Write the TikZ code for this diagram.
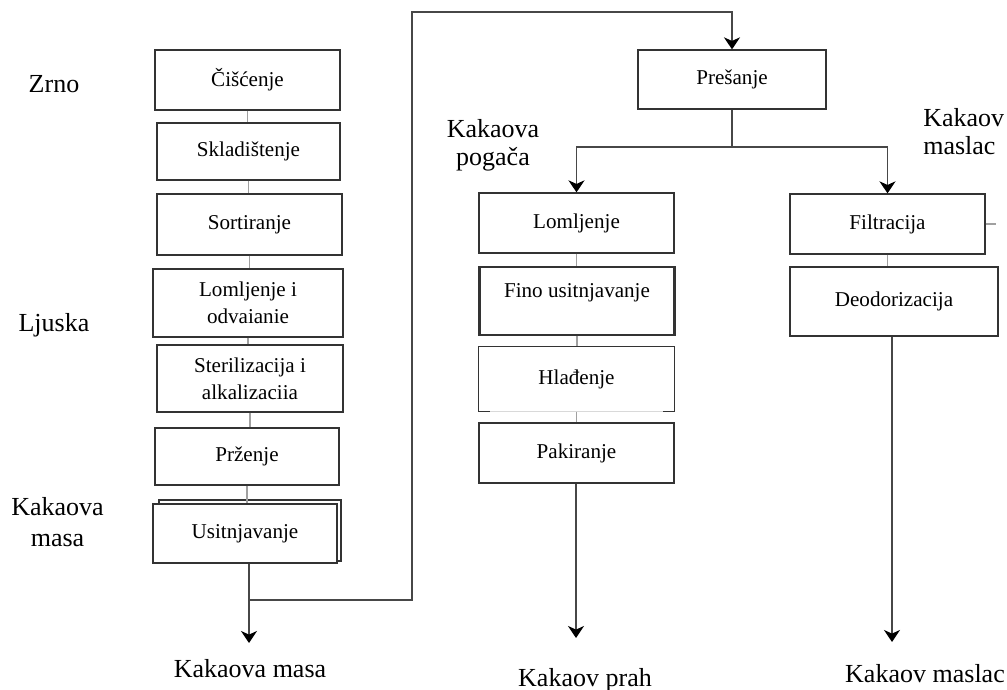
\documentclass[tikz,border=0pt]{standalone}
\usepackage{fontspec}
\setmainfont{Liberation Serif}
\usetikzlibrary{arrows.meta}
\definecolor{boxline}{HTML}{333333}
\definecolor{flowline}{HTML}{474747}
\definecolor{stepline}{HTML}{A0A0A0}
\tikzset{
  procbox/.style={draw=boxline, line width=0.9pt, fill=white, align=center, inner sep=0pt,
    font=\fontsize{15}{19}\selectfont},
  lbl/.style={inner sep=0pt, align=center, font=\fontsize{18.5}{22}\selectfont},
  mainline/.style={draw=flowline, line width=1.3pt},
  flow/.style={mainline, -{Stealth[length=0.3cm,width=0.4cm,inset=0.09cm,color=black]}},
  link/.style={draw=stepline, line width=1pt}
}
\begin{document}
\begin{tikzpicture}[x=0.025cm, y=-0.025cm]
  \useasboundingbox (0,0) rectangle (1007,690);

  % zrno -> kakaova masa
  \node[procbox, minimum width=4.625cm, minimum height=1.5cm] (ciscenje) at (247.5,80) {Čišćenje};
  \node[procbox, minimum width=4.575cm, minimum height=1.425cm] (skladistenje) at (248.5,151.5) {Skladištenje};
  \node[procbox, minimum width=4.625cm, minimum height=1.525cm] (sortiranje) at (249.5,224.5) {Sortiranje};
  \node[procbox, minimum width=4.75cm, minimum height=1.7cm] (lomljenjeA) at (248,303) {Lomljenje i\\odvaianie};
  \node[procbox, minimum width=4.65cm, minimum height=1.675cm] (sterilizacija) at (250,378.5) {Sterilizacija i\\alkalizaciia};
  \node[procbox, minimum width=4.6cm, minimum height=1.425cm] (przenje) at (247,456.5) {Prženje};
  \draw[boxline, line width=0.9pt, fill=white] (159,500) rectangle (341,561);
  \node[procbox, minimum width=4.6cm, minimum height=1.475cm] (usitnjavanje) at (245,533.5) {Usitnjavanje};

  \draw[link] (ciscenje.south) -- (ciscenje.south |- skladistenje.north);
  \draw[link] (skladistenje.south) -- (skladistenje.south |- sortiranje.north);
  \draw[link] (sortiranje.south) -- (sortiranje.south |- lomljenjeA.north);
  \draw[link] (lomljenjeA.south) -- (lomljenjeA.south |- sterilizacija.north);
  \draw[link] (sterilizacija.south) -- (sterilizacija.south |- przenje.north);
  \draw[link] (przenje.south) -- (przenje.south |- usitnjavanje.north);

  % presanje
  \node[procbox, minimum width=4.7cm, minimum height=1.475cm] (presanje) at (732,79.5) {Prešanje};

  % kakaova pogaca -> prah
  \node[procbox, minimum width=4.875cm, minimum height=1.5cm] (lomljenjeB) at (576.5,223) {Lomljenje};
  \node[procbox, minimum width=4.85cm, minimum height=1.7cm, text depth=0.5cm] (fino) at (577,301) {Fino usitnjavanje};
  \draw[boxline, line width=2pt] (fino.north west) -- (fino.south west) (fino.north east) -- (fino.south east);
  \node[procbox, draw=none, minimum width=4.875cm, minimum height=1.6cm] (hladenje) at (576.5,379) {Hlađenje};
  \draw[stepline!40, line width=0.9pt] (hladenje.south west) -- (hladenje.south east);
  \draw[boxline, line width=0.9pt] ([xshift=8pt]hladenje.south west) -- (hladenje.south west) -- (hladenje.north west)
    -- (hladenje.north east) -- (hladenje.south east) -- ([xshift=-8pt]hladenje.south east);
  \node[procbox, minimum width=4.875cm, minimum height=1.5cm] (pakiranje) at (576.5,453) {Pakiranje};

  \draw[link] (lomljenjeB.south) -- (lomljenjeB.south |- fino.north);
  \draw[link] (fino.south) -- (fino.south |- hladenje.north);
  \draw[link] (hladenje.south) -- (hladenje.south |- pakiranje.north);

  % kakaov maslac
  \node[procbox, minimum width=4.875cm, minimum height=1.5cm] (filtracija) at (887.5,224) {Filtracija};
  \node[procbox, minimum width=5.2cm, minimum height=1.725cm] (deodorizacija) at (894,301.5) {Deodorizacija};
  \draw[link] (filtracija.south) -- (filtracija.south |- deodorizacija.north);
  \draw[link] (filtracija.east) -- ++(10,0);

  % side labels
  \node[lbl, anchor=base] (zrno) at (54,93) {Zrno};
  \node[lbl, anchor=base] (ljuska) at (54,331) {Ljuska};
  \node[lbl] (masaside) at (57.5,522) {Kakaova\\masa};
  \node[lbl, font=\fontsize{18.5}{20}\selectfont] (pogaca) at (493,145) {Kakaova\\pogača};
  \node[lbl, anchor=west, align=left, font=\fontsize{18.5}{20}\selectfont] (maslacside) at (923,132) {Kakaov\\maslac};

  % outputs
  \node[lbl, anchor=base] (masaout) at (250,677) {Kakaova masa};
  \node[lbl, anchor=base] (prahout) at (585,686) {Kakaov prah};
  \node[lbl, anchor=base] (maslacout) at (925,682) {Kakaov maslac};
  \coordinate (masaend) at (249,643);
  \coordinate (prahend) at (576,638);
  \coordinate (maslacend) at (892,642);
  \coordinate (branch) at (249,600);
  \coordinate (split) at (732,147);

  \draw[flow] (usitnjavanje.south -| masaend) -- (masaend);
  \draw[flow] (branch) -- (412,600) -- (412,12) -| (presanje.north);
  \draw[mainline] (presanje.south) -- (split);
  \draw[flow] (split) -| (lomljenjeB.north);
  \draw[flow] (split) -| (filtracija.north);
  \draw[flow] (pakiranje.south -| prahend) -- (prahend);
  \draw[flow] (deodorizacija.south -| maslacend) -- (maslacend);
\end{tikzpicture}
\end{document}
